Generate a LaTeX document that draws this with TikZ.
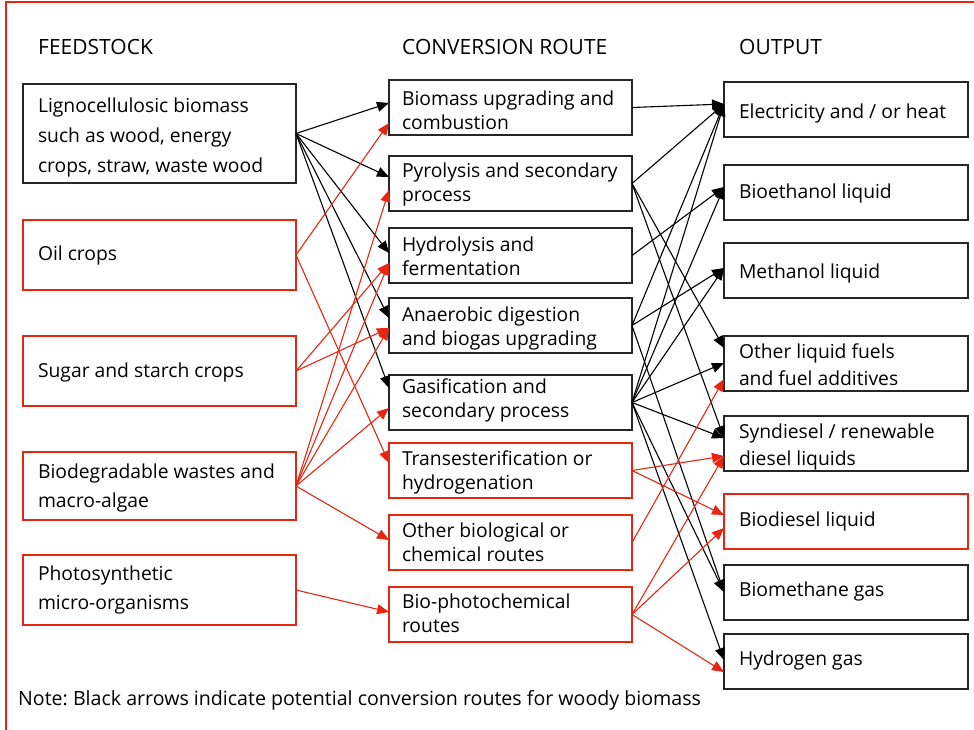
\documentclass[tikz,border=0pt]{standalone}
\usepackage{fontspec}
\setmainfont{Open Sans}
\usetikzlibrary{arrows.meta,calc}
\definecolor{rd}{RGB}{230,38,18}
\frenchspacing
\begin{document}
\begin{tikzpicture}[x=1pt,y=-1pt,
  bx/.style={draw, line width=1.1pt, anchor=north west, inner sep=0pt, outer sep=0pt},
  fbx/.style={bx, minimum width=273pt},
  cbx/.style={bx, minimum width=243pt, minimum height=55pt},
  obx/.style={bx, minimum width=244pt, minimum height=55pt},
  kb/.style={draw=black!85},
  kr/.style={draw=rd},
  tx/.style={anchor=west, align=left, inner sep=0pt, outer sep=0pt},
  ft/.style={tx, font=\fontsize{19.3}{30}\selectfont},
  ft2/.style={tx, font=\fontsize{19.3}{29}\selectfont},
  ct/.style={tx, font=\fontsize{19.3}{24}\selectfont},
  ot/.style={tx, font=\fontsize{19.3}{27}\selectfont},
  ba/.style={black, line width=1.1pt, -{Triangle[length=12pt,width=10pt]}},
  ra/.style={rd, line width=1.1pt, -{Triangle[length=12pt,width=10pt]}},
  hd/.style={anchor=west, font=\fontsize{21}{24}\selectfont, inner sep=0pt}
]
\useasboundingbox (0,0) rectangle (974,729);
\draw[rd, line width=2pt] (990,2) -- (6,2) -- (6,740);

% headers
\node[hd] (h1) at (38,47) {FEEDSTOCK};
\node[hd] (h2) at (402,47) {CONVERSION ROUTE};
\node[hd] (h3) at (739,47) {OUTPUT};

% feedstock boxes
\node[fbx,kb,minimum height=99pt] (F1) at (23,84) {};
\node[fbx,kr,minimum height=70pt] (F2) at (23,220) {};
\node[fbx,kr,minimum height=70pt] (F3) at (23,336) {};
\node[fbx,kr,minimum height=68pt] (F4) at (23,452) {};
\node[fbx,kr,minimum height=70pt] (F5) at (23,555) {};
\node[ft] (F1t) at (38,137.5) {Lignocellulosic biomass\\such as wood, energy\\crops, straw, waste wood};
\node[ft] (F2t) at (38,255.5) {Oil crops};
\node[ft] (F3t) at (38,372.5) {Sugar and starch crops};
\node[ft2] (F4t) at (38,488) {Biodegradable wastes and\\macro-algae};
\node[ft2] (F5t) at (38,590) {Photosynthetic\\micro-organisms};

% conversion route boxes
\node[cbx,kb] (C1) at (389,80) {};
\node[cbx,kb] (C2) at (389,156) {};
\node[cbx,kb] (C3) at (389,228) {};
\node[cbx,kb] (C4) at (389,298) {};
\node[cbx,kb] (C5) at (389,375) {};
\node[cbx,kr] (C6) at (389,443) {};
\node[cbx,kr] (C7) at (389,515) {};
\node[cbx,kr] (C8) at (389,587) {};
\node[ct] (C1t) at (402,110) {Biomass upgrading and\\combustion};
\node[ct] (C2t) at (402,184.5) {Pyrolysis and secondary\\process};
\node[ct] (C3t) at (402,256.5) {Hydrolysis and\\fermentation};
\node[ct] (C4t) at (402,328.5) {Anaerobic digestion\\and biogas upgrading};
\node[ct] (C5t) at (402,400.5) {Gasification and\\secondary process};
\node[ct] (C6t) at (402,472.5) {Transesterification or\\hydrogenation};
\node[ct] (C7t) at (402,542.5) {Other biological or\\chemical routes};
\node[ct] (C8t) at (402,613.5) {Bio-photochemical\\routes};

% output boxes
\node[obx,kb] (O1) at (724,82) {};
\node[obx,kb] (O2) at (724,165) {};
\node[obx,kb] (O3) at (724,243) {};
\node[obx,kb] (O4) at (724,336) {};
\node[obx,kb] (O5) at (724,416) {};
\node[obx,kr] (O6) at (724,494) {};
\node[obx,kb] (O7) at (724,565) {};
\node[obx,kb] (O8) at (724,634) {};
\node[ot] (O1t) at (739,113.5) {Electricity and / or heat};
\node[ot] (O2t) at (739,193.5) {Bioethanol liquid};
\node[ot] (O3t) at (739,273.5) {Methanol liquid};
\node[ot] (O4t) at (739,365) {Other liquid fuels\\and fuel additives};
\node[ot] (O5t) at (739,447) {Syndiesel / renewable\\diesel liquids};
\node[ot] (O6t) at (739,521.5) {Biodiesel liquid};
\node[ot] (O7t) at (739,591.5) {Biomethane gas};
\node[ot] (O8t) at (739,660.5) {Hydrogen gas};

% note
\node[anchor=west, font=\fontsize{19.6}{24}\selectfont, inner sep=0pt] (note) at (18,700) {Note: Black arrows indicate potential conversion routes for woody biomass};

% feedstock -> conversion
\draw[ba] (F1.east) -- ($(C1.north west)+(0,23)$);
\draw[ba] (F1.east) -- ($(C2.north west)+(0,21)$);
\draw[ba] (F1.east) -- ($(C3.north west)+(0,25)$);
\draw[ba] (F1.east) -- ($(C4.north west)+(0,20)$);
\draw[ba] (F1.east) -- ($(C5.north west)+(0,13)$);

\draw[ra] (F2.east) -- ($(C1.north west)+(0,43)$);
\draw[ra] (F2.east) -- ($(C6.north west)+(0,20)$);
\draw[ra] (F3.east) -- ($(C3.north west)+(0,35)$);
\draw[ra] (F3.east) -- ($(C4.north west)+(0,30)$);
\draw[ra] (F4.east) -- ($(C2.north west)+(0,34)$);
\draw[ra] (F4.east) -- ($(C3.north west)+(0,35)$);
\draw[ra] (F4.east) -- ($(C4.north west)+(0,30)$);
\draw[ra] (F4.east) -- ($(C5.north west)+(0,33)$);
\draw[ra] (F4.east) -- ($(C7.north west)+(0,25)$);
\draw[ra] (F5.east) -- ($(C8.north west)+(0,25)$);

% conversion -> output (black)
\draw[ba] (C1.east) -- ($(O1.north west)+(0,22)$);
\draw[ba] (C2.east) -- ($(O1.north west)+(0,22)$);
\draw[ba] (C2.east) -- ($(O4.north west)+(0,12)$);
\draw[ba] (C2.east) -- ($(O5.north west)+(0,22)$);
\draw[ba] (C3.east) -- ($(O2.north west)+(0,22)$);
\draw[ba] (C4.east) -- ($(O1.north west)+(0,22)$);
\draw[ba] (C4.east) -- ($(O3.north west)+(0,25)$);
\draw[ba] (C4.east) -- ($(O7.north west)+(0,27)$);
\draw[ba] (C5.east) -- ($(O1.north west)+(0,22)$);
\draw[ba] (C5.east) -- ($(O2.north west)+(0,22)$);
\draw[ba] (C5.east) -- ($(O3.north west)+(0,25)$);
\draw[ba] (C5.east) -- ($(O4.north west)+(0,27)$);
\draw[ba] (C5.east) -- ($(O5.north west)+(0,22)$);
\draw[ba] (C5.east) -- ($(O7.north west)+(0,27)$);
\draw[ba] (C5.east) -- ($(O8.north west)+(0,26)$);

% conversion -> output (red)
\draw[ra] (C6.east) -- ($(O5.north west)+(0,40)$);
\draw[ra] (C6.east) -- ($(O6.north west)+(0,21)$);
\draw[ra] (C7.east) -- ($(O4.north west)+(0,43)$);
\draw[ra] (C8.east) -- ($(O5.north west)+(0,40)$);
\draw[ra] (C8.east) -- ($(O6.north west)+(0,34)$);
\draw[ra] (C8.east) -- ($(O8.north west)+(0,38)$);
\end{tikzpicture}
\end{document}
